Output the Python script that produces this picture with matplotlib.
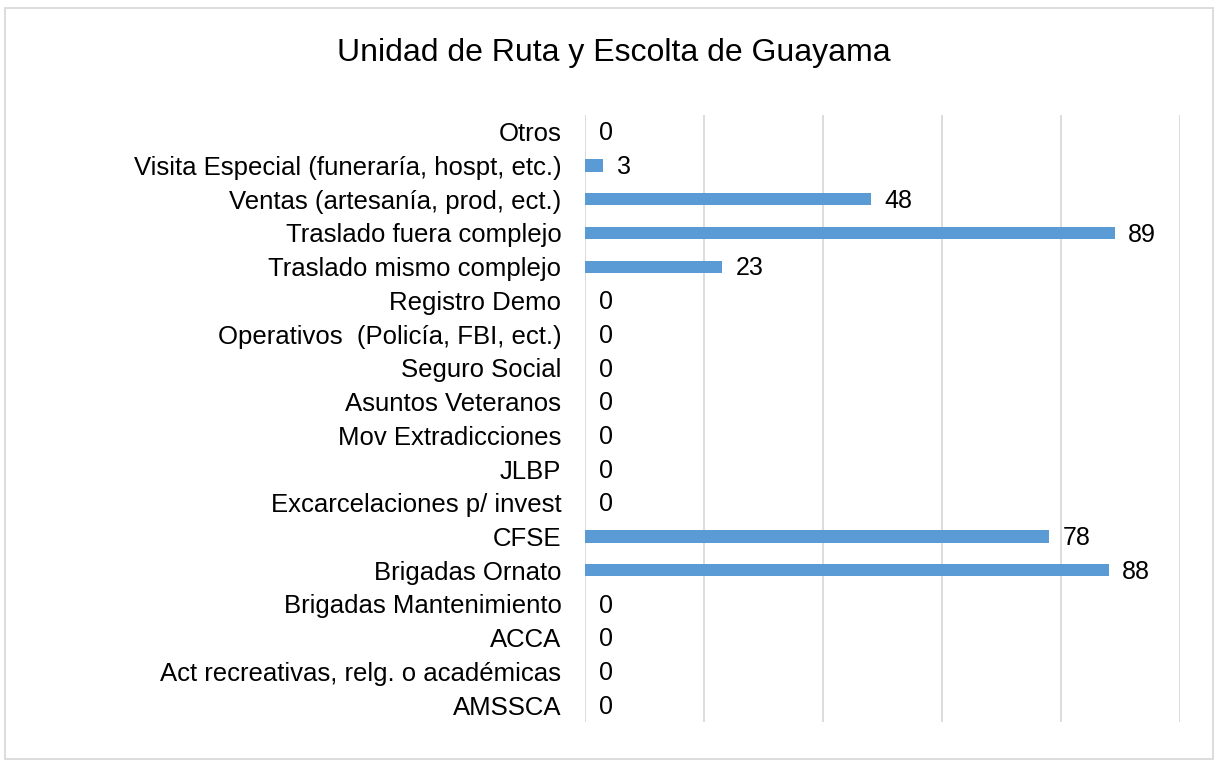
import matplotlib.pyplot as plt
from matplotlib.patches import Rectangle

plt.rcParams['font.family'] = ['Liberation Sans', 'DejaVu Sans']

# categories listed bottom to top
categorias = [
    "AMSSCA",
    "Act recreativas, relg. o académicas",
    "ACCA",
    "Brigadas Mantenimiento",
    "Brigadas Ornato",
    "CFSE",
    "Excarcelaciones p/ invest",
    "JLBP",
    "Mov Extradicciones",
    "Asuntos Veteranos",
    "Seguro Social",
    "Operativos  (Policía, FBI, ect.)",
    "Registro Demo",
    "Traslado mismo complejo",
    "Traslado fuera complejo",
    "Ventas (artesanía, prod, ect.)",
    "Visita Especial (funeraría, hospt, etc.)",
    "Otros",
]
valores = [0, 0, 0, 0, 88, 78, 0, 0, 0, 0, 0, 0, 0, 23, 89, 48, 3, 0]

fig = plt.figure(figsize=(12.15, 7.61), dpi=100)
ax = fig.add_axes([0.4815, 0.0512, 0.4897, 0.7978])

y = list(range(len(categorias)))
ax.barh(y, valores, height=0.36, color="#5B9BD5", zorder=3)

for yi, v in zip(y, valores):
    ax.text(v + 2.3, yi - 0.05, str(v), va="center", ha="left", fontsize=18, color="black")

ax.set_xlim(0, 100)
ax.set_ylim(-0.5, len(categorias) - 0.5)
ax.set_yticks(y)
ax.set_yticklabels(categorias, fontsize=18.5)
ax.set_xticks([0, 20, 40, 60, 80, 100])
ax.tick_params(axis="x", length=0, labelbottom=False)
ax.tick_params(axis="y", length=0, pad=17)
ax.grid(axis="x", color="#D9D9D9", linewidth=1.3, zorder=0)
for s in ax.spines.values():
    s.set_visible(False)

fig.text(0.505, 0.93, "Unidad de Ruta y Escolta de Guayama", ha="center", va="center", fontsize=23)

# thin frame around the chart area
fig.patches.append(Rectangle((5 / 1215, 2 / 761), 1208 / 1215, 751 / 761,
                             transform=fig.transFigure, fill=False,
                             edgecolor="#D9D9D9", linewidth=1.3))

fig.savefig("out.png", dpi=100)
